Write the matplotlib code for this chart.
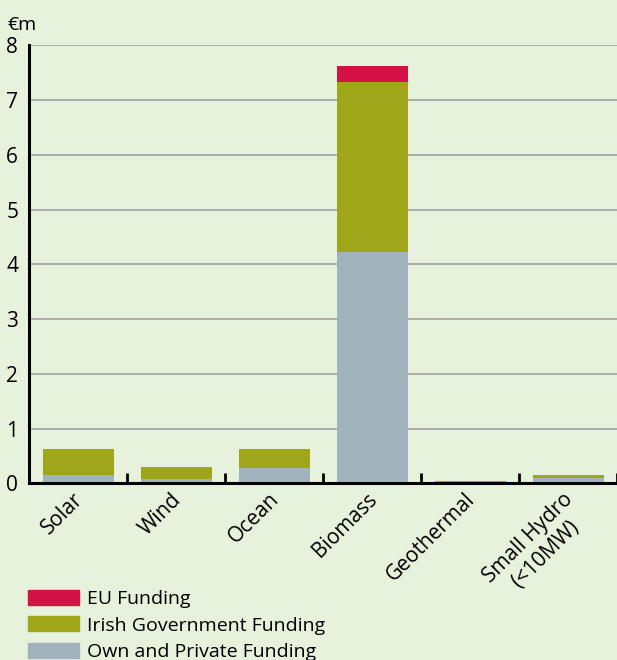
import numpy as np
import matplotlib.pyplot as plt
from matplotlib.patches import Patch
from matplotlib.ticker import FixedLocator

plt.rcParams['font.family'] = ['Open Sans', 'DejaVu Sans']

# Funding by technology, €m
categories = ["Solar", "Wind", "Ocean", "Biomass", "Geothermal", "Small Hydro\n(<10MW)"]
own_private = [0.155, 0.08, 0.28, 4.23, 0.0, 0.10]
irish_gov = [0.48, 0.22, 0.34, 3.10, 0.04, 0.055]
eu_funding = [0.0, 0.0, 0.0, 0.29, 0.0, 0.0]

bg = "#e6f2dc"
c_own = "#a0b3bd"
c_irish = "#9fa61a"
c_eu = "#d41245"

fig = plt.figure(figsize=(6.17, 6.6), dpi=100, facecolor=bg)
ax = fig.add_axes([0.0475, 0.2677, 0.9525, 0.6634])
ax.set_facecolor(bg)

x = np.arange(len(categories))
w = 0.725
own = np.array(own_private)
irish = np.array(irish_gov)
eu = np.array(eu_funding)
ax.bar(x, own, w, color=c_own, zorder=3)
ax.bar(x, irish, w, bottom=own, color=c_irish, zorder=3)
ax.bar(x, eu, w, bottom=own + irish, color=c_eu, zorder=3)

ax.set_xlim(-0.5, 5.5)
ax.set_ylim(0, 8)
ax.set_yticks(range(0, 9))
ax.yaxis.grid(True, color="#a4a8a4", linewidth=1.3, zorder=0)
ax.tick_params(axis="y", length=0, pad=8, labelsize=15)

# labels nudged slightly left so the rotated words end over the bar centres
ax.set_xticks(x - 0.06)
ax.set_xticklabels(categories, rotation=45, ha="right", rotation_mode="anchor",
                   multialignment="center", fontsize=15)
ax.tick_params(axis="x", which="major", length=0, pad=4)
# separators between the categories, pointing up into the plot
ax.xaxis.set_minor_locator(FixedLocator(x + 0.5))
ax.tick_params(axis="x", which="minor", direction="in", length=7, width=2, color="black")

for side in ("top", "right"):
    ax.spines[side].set_visible(False)
for side in ("left", "bottom"):
    ax.spines[side].set_linewidth(2.2)
    ax.spines[side].set_zorder(4)

fig.text(0.012, 0.955, "€m", fontsize=14, ha="left", va="baseline")

handles = [Patch(color=c_eu, label="EU Funding"),
           Patch(color=c_irish, label="Irish Government Funding"),
           Patch(color=c_own, label="Own and Private Funding")]
fig.legend(handles=handles, loc="upper left", bbox_to_anchor=(0.045, 0.106),
           frameon=False, fontsize=14, handlelength=2.65, handleheight=0.8,
           handletextpad=0.4, labelspacing=0.42, borderpad=0, borderaxespad=0)

fig.savefig("out.png", dpi=100, facecolor=bg)
